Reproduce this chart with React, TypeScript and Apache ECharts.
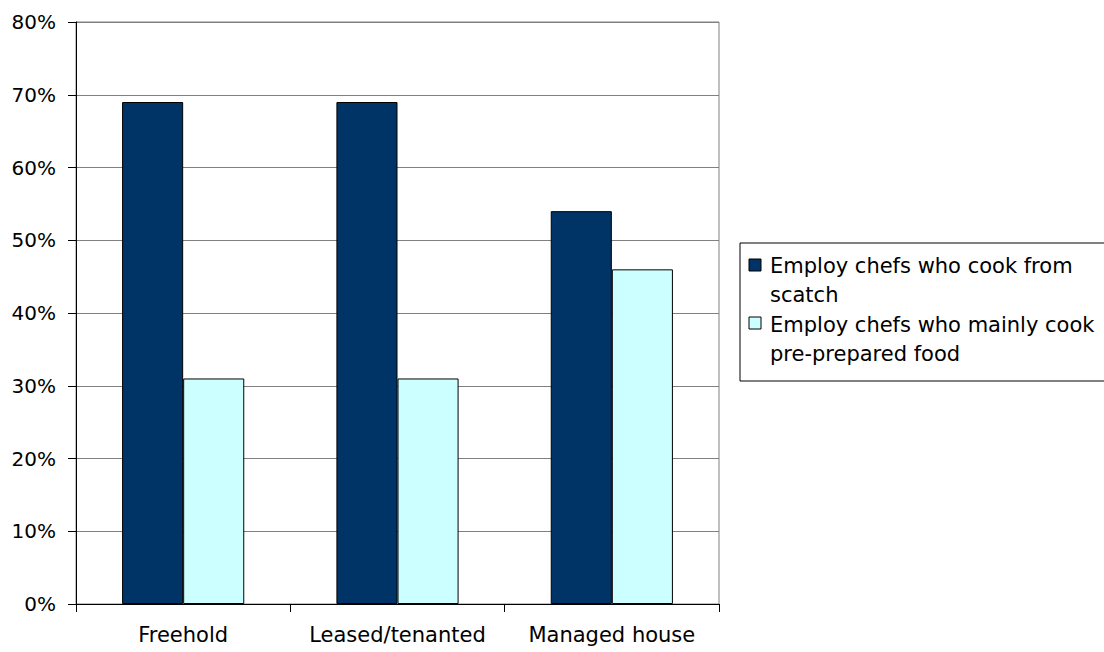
import React, { useEffect, useRef } from "react";
import * as echarts from "echarts";

const categories = ["Freehold", "Leased/tenanted", "Managed house"];
const scratchValues = [69, 69, 54];
const preparedValues = [31, 31, 46];
const seriesNames = [
  "Employ chefs who cook from\nscatch",
  "Employ chefs who mainly cook\npre-prepared food",
];
const colors = ["#003366", "#CCFFFF"];

const FONT = "DejaVu Sans, Liberation Sans, sans-serif";

export default function App() {
  const ref = useRef<HTMLDivElement>(null);
  useEffect(() => {
    if (!ref.current) return;
    const chart = echarts.init(ref.current, undefined, { renderer: "svg" });
    const legendX = 740;
    const legendY = 243;
    chart.setOption({
      animation: false,
      backgroundColor: "#ffffff",
      textStyle: { fontFamily: FONT },
      grid: { left: 76, right: 385, top: 22, bottom: 48, show: true, borderColor: "#808080", borderWidth: 1 },
      xAxis: {
        type: "category",
        data: categories,
        axisLine: { lineStyle: { color: "#000", width: 1 } },
        axisTick: { show: true, interval: 0, length: 8, inside: false, lineStyle: { color: "#000" } },
        axisLabel: { color: "#000", fontSize: 21, fontFamily: FONT, margin: 20, interval: 0, hideOverlap: false },
      },
      yAxis: {
        type: "value",
        min: 0,
        max: 80,
        interval: 10,
        axisLine: { show: true, lineStyle: { color: "#000", width: 1 } },
        axisTick: { show: true, length: 8, lineStyle: { color: "#000" } },
        axisLabel: { color: "#000", fontSize: 20, fontFamily: FONT, margin: 20, formatter: "{value}%" },
        splitLine: { show: true, lineStyle: { color: "#808080", width: 1 } },
      },
      series: [
        {
          name: seriesNames[0],
          type: "bar",
          data: scratchValues,
          barGap: "0%",
          barCategoryGap: "43%",
          itemStyle: { color: colors[0], borderColor: "#000", borderWidth: 1 },
        },
        {
          name: seriesNames[1],
          type: "bar",
          data: preparedValues,
          barGap: "0%",
          barCategoryGap: "43%",
          itemStyle: { color: colors[1], borderColor: "#000", borderWidth: 1 },
        },
      ],
      graphic: [
        {
          type: "rect",
          shape: { x: legendX, y: legendY, width: 400, height: 138 },
          style: { fill: "#fff", stroke: "#000", lineWidth: 1 },
        },
        {
          type: "rect",
          shape: { x: 749, y: 259, width: 12, height: 12 },
          style: { fill: colors[0], stroke: "#000", lineWidth: 1 },
        },
        {
          type: "rect",
          shape: { x: 749, y: 317, width: 12, height: 12 },
          style: { fill: colors[1], stroke: "#000", lineWidth: 1 },
        },
        {
          type: "text",
          x: 770,
          y: 251,
          style: { text: seriesNames[0], fontSize: 21, fontFamily: FONT, fill: "#000", lineHeight: 29, verticalAlign: "top" },
        },
        {
          type: "text",
          x: 770,
          y: 310,
          style: { text: seriesNames[1], fontSize: 21, fontFamily: FONT, fill: "#000", lineHeight: 29, verticalAlign: "top" },
        },
      ],
    });
    return () => chart.dispose();
  }, []);
  return (
    <div
      ref={ref}
      style={{ position: "fixed", left: 0, top: 0, width: 1104, height: 652, background: "#fff" }}
    />
  );
}
